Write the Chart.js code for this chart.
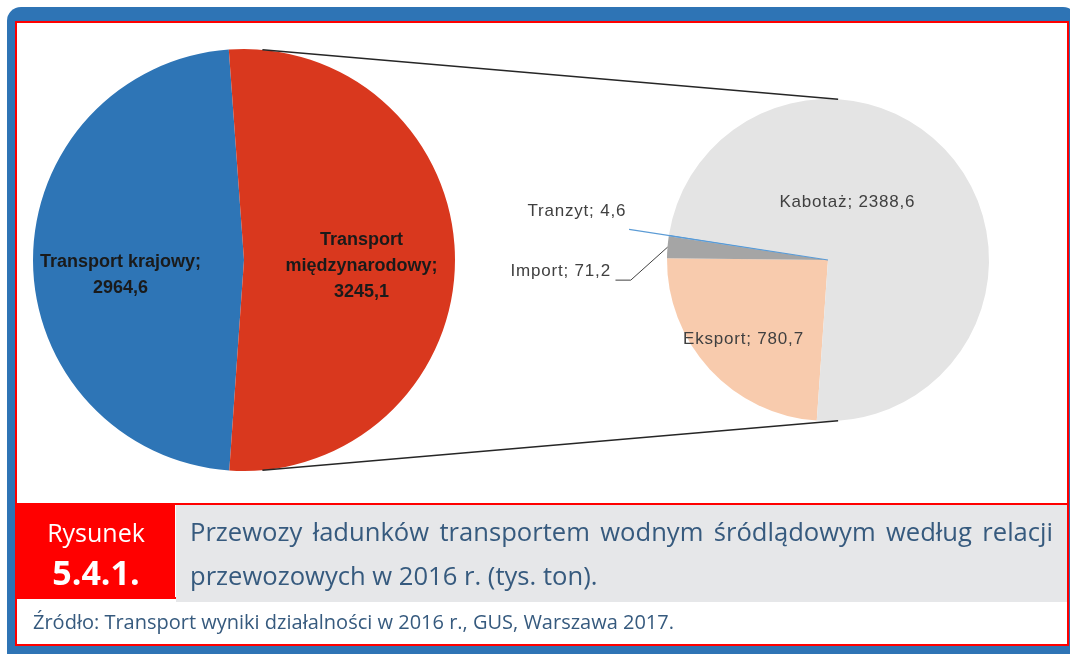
<!DOCTYPE html>
<html lang="pl">
<head>
<meta charset="utf-8">
<title>Rysunek 5.4.1.</title>
<script src="https://cdn.jsdelivr.net/npm/chart.js@4.4.0/dist/chart.umd.min.js"></script>
<style>
  body { margin: 0; width: 1070px; height: 654px; overflow: hidden; background: #fff; font-family: "Open Sans", sans-serif; }
  .frame { position: absolute; left: 7px; top: 7px; width: 1070px; height: 660px; background: #2e74b5; border-radius: 14px; }
  .box { position: absolute; left: 8px; top: 14px; width: 1050px; height: 621px; border: 2px solid #ff0000; background: #fff; }
  .plot { position: absolute; left: 0; top: 0; width: 1050px; height: 480px; }
  .plot canvas { position: absolute; left: 0; top: 0; }
  .caption { position: absolute; left: 0; top: 480px; width: 1050px; height: 92px; border-top: 2px solid #ff0000; border-bottom: 2px solid #ff0000; }
  .fig { position: absolute; left: 0; top: 0; width: 158px; height: 92px; background: #ff0000; color: #fff; text-align: center; }
  .fig .word { position: absolute; left: 0; width: 158px; top: 8px; font-size: 25px; line-height: 38px; }
  .fig .num { position: absolute; left: 0; width: 158px; top: 46px; font-size: 34px; font-weight: bold; line-height: 42px; }
  .title { position: absolute; left: 159px; top: 0; width: 863px; height: 92px; padding: 5px 14px 0 14px; background: #e6e7e9; color: #365a7e; font-size: 25.6px; line-height: 44px; }
  .title .l1 { text-align: justify; text-align-last: justify; white-space: nowrap; }
  .source { position: absolute; left: 0; top: 576px; width: 1034px; height: 45px; padding-left: 16px; color: #365a7e; font-size: 20px; line-height: 45px; }
</style>
</head>
<body>
<div class="frame">
  <div class="box">
    <div class="plot">
      <canvas id="mainChart" width="1050" height="480"></canvas>
      <canvas id="intlChart" width="1050" height="480"></canvas>
    </div>
    <div class="caption">
      <div class="fig"><div class="word">Rysunek</div><div class="num">5.4.1.</div></div>
      <div class="title"><div class="l1">Przewozy ładunków transportem wodnym śródlądowym według relacji</div><div>przewozowych w 2016 r. (tys. ton).</div></div>
    </div>
    <div class="source">Źródło: Transport wyniki działalności w 2016 r., GUS, Warszawa 2017.</div>
  </div>
</div>
<script>
// przewozy ogółem (tys. ton)
const mainLabels = ["Transport krajowy", "Transport międzynarodowy"];
const mainValues = [2964.6, 3245.1];
const mainColors = ["#2e75b6", "#d9381e"];

// transport międzynarodowy wg relacji (tys. ton)
const intlLabels = ["Eksport", "Import", "Tranzyt", "Kabotaż"];
const intlValues = [780.7, 71.2, 4.6, 2388.6];
const intlColors = ["#f8cbad", "#a5a5a5", "#5b9bd5", "#e4e4e4"];

function fmt(v) {
    return v.toFixed(1).replace(".", ",");
}

// label text drawn over/next to the slices, offsets in units of the radius
const sliceLabels = {
    id: "sliceLabels",
    afterDatasetsDraw(chart, args, opts) {
        const ctx = chart.ctx;
        const arcs = chart.getDatasetMeta(0).data;
        const values = chart.data.datasets[0].data;
        ctx.save();
        ctx.font = opts.font;
        ctx.fillStyle = opts.color;
        ctx.letterSpacing = opts.spacing;
        ctx.textAlign = "center";
        ctx.textBaseline = "middle";
        arcs.forEach((arc, i) => {
            const place = opts.places[i];
            const name = chart.data.labels[i];
            let lines;
            if (opts.wrap) {
                const words = name.split(" ");
                lines = place.oneLine ? [name + ";"] : words.slice(0, -1).concat(words[words.length - 1] + ";");
                lines.push(fmt(values[i]));
            } else {
                lines = [name + "; " + fmt(values[i])];
            }
            const x = arc.x + place.dx * arc.outerRadius;
            const y0 = arc.y + place.dy * arc.outerRadius - (lines.length - 1) * opts.lineHeight / 2;
            lines.forEach((t, k) => ctx.fillText(t, x, y0 + k * opts.lineHeight));
        });
        ctx.restore();
    }
};

function pointAt(arc, angle, dist) {
    return [arc.x + Math.cos(angle) * dist, arc.y + Math.sin(angle) * dist];
}

// lines joining both pies and the leader lines of the small slices
const connectors = {
    id: "connectors",
    afterDraw(chart) {
        const ctx = chart.ctx;
        const big = mainChart.getDatasetMeta(0).data[0];
        const arcs = chart.getDatasetMeta(0).data;
        const small = arcs[0];
        const rad = d => d * Math.PI / 180;
        ctx.save();
        ctx.strokeStyle = "#262626";
        ctx.lineWidth = 1.4;
        [[-90 + 5, -90 + 3.6], [90 - 5, 90 - 3.6]].forEach(pair => {
            const a = pointAt(big, rad(pair[0]), big.outerRadius);
            const b = pointAt(small, rad(pair[1]), small.outerRadius);
            ctx.beginPath();
            ctx.moveTo(a[0], a[1]);
            ctx.lineTo(b[0], b[1]);
            ctx.stroke();
        });

        // Import
        const imp = arcs[1];
        const r = imp.outerRadius;
        const edge = pointAt(imp, (imp.startAngle + imp.endAngle) / 2, r);
        ctx.lineWidth = 1;
        ctx.strokeStyle = "#404040";
        ctx.beginPath();
        ctx.moveTo(edge[0], edge[1]);
        ctx.lineTo(imp.x - 1.225 * r, imp.y + 0.125 * r);
        ctx.lineTo(imp.x - 1.32 * r, imp.y + 0.125 * r);
        ctx.stroke();

        // Tranzyt
        const tr = arcs[2];
        const mid = (tr.startAngle + tr.endAngle) / 2;
        const inner = pointAt(tr, mid, 0);
        const outer = pointAt(tr, mid, tr.outerRadius * 1.25);
        ctx.strokeStyle = "#5b9bd5";
        ctx.lineWidth = 1.2;
        ctx.beginPath();
        ctx.moveTo(inner[0], inner[1]);
        ctx.lineTo(outer[0], outer[1]);
        ctx.stroke();
        ctx.restore();
    }
};

Chart.defaults.font.family = "'Liberation Sans', Arial, sans-serif";

const mainChart = new Chart(document.getElementById("mainChart"), {
    type: "pie",
    data: {
        labels: mainLabels,
        datasets: [{
            data: mainValues,
            backgroundColor: mainColors,
            borderWidth: 0
        }]
    },
    options: {
        responsive: false,
        animation: false,
        devicePixelRatio: 1,
        events: [],
        rotation: 184,
        layout: { padding: { left: 16, right: 612, top: 26, bottom: 32 } },
        plugins: {
            legend: { display: false },
            tooltip: { enabled: false },
            sliceLabels: {
                font: "bold 18px 'Liberation Sans', Arial, sans-serif",
                color: "#1a1a1a",
                spacing: "0px",
                lineHeight: 26,
                wrap: true,
                places: [{ dx: -0.585, dy: 0.07, oneLine: true }, { dx: 0.557, dy: 0.03 }]
            }
        }
    },
    plugins: [sliceLabels]
});

const intlChart = new Chart(document.getElementById("intlChart"), {
    type: "pie",
    data: {
        labels: intlLabels,
        datasets: [{
            data: intlValues,
            backgroundColor: intlColors,
            borderWidth: 0
        }]
    },
    options: {
        responsive: false,
        animation: false,
        devicePixelRatio: 1,
        events: [],
        rotation: 184,
        layout: { padding: { left: 650, right: 78, top: 76, bottom: 82 } },
        plugins: {
            legend: { display: false },
            tooltip: { enabled: false },
            sliceLabels: {
                font: "17px 'Liberation Sans', Arial, sans-serif",
                color: "#404040",
                spacing: "0.8px",
                lineHeight: 20,
                wrap: false,
                places: [
                    { dx: -0.525, dy: 0.49 },
                    { dx: -1.66, dy: 0.07 },
                    { dx: -1.56, dy: -0.3 },
                    { dx: 0.12, dy: -0.36 }
                ]
            }
        }
    },
    plugins: [sliceLabels, connectors]
});
</script>
</body>
</html>
